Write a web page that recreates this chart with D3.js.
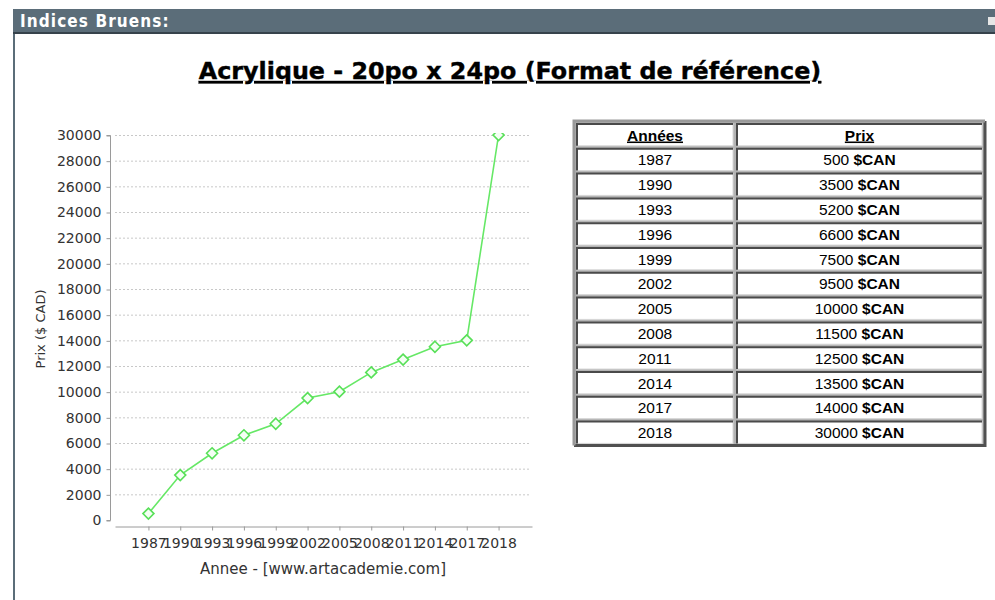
<!DOCTYPE html>
<html>
<head>
<meta charset="utf-8">
<script src="https://cdn.jsdelivr.net/npm/d3@7"></script>
<style>
  body { margin: 0; background: #fff; }
  svg { display: block; }
</style>
</head>
<body>
<div id="the_chart"></div>
<script>
// data
var years = ['1987','1990','1993','1996','1999','2002','2005','2008','2011','2014','2017','2018'];
var prices = [500, 3500, 5200, 6600, 7500, 9500, 10000, 11500, 12500, 13500, 14000, 30000];
var yTicks = d3.range(0, 30001, 2000);
var tableHead = ['Années', 'Prix'];

var canvas = d3.select('#the_chart')
  .append('svg')
  .attr('width', 995)
  .attr('height', 600);

// header bar of the page box
canvas.append('rect').attr('x', 13).attr('y', 9).attr('width', 982).attr('height', 24).attr('fill', '#5b6d79');
canvas.append('rect').attr('x', 13).attr('y', 32).attr('width', 982).attr('height', 2).attr('fill', '#36424b');
canvas.append('rect').attr('x', 13).attr('y', 34).attr('width', 2).attr('height', 566).attr('fill', '#5b6d79');
canvas.append('rect').attr('x', 988).attr('y', 17).attr('width', 7).attr('height', 8).attr('fill', '#e6e6e6');
canvas.append('text')
  .attr('x', 20).attr('y', 27)
  .attr('fill', '#fff')
  .style('font-family', 'DejaVu Sans Condensed, DejaVu Sans')
  .style('font-weight', 'bold')
  .style('font-size', '17px')
  .style('letter-spacing', '1.1px')
  .text('Indices Bruens:');

// title
canvas.append('text')
  .attr('x', 510).attr('y', 79)
  .attr('text-anchor', 'middle')
  .attr('fill', '#000')
  .attr('stroke', '#000')
  .attr('stroke-width', 0.4)
  .style('font-family', 'DejaVu Sans')
  .style('font-weight', 'bold')
  .style('font-size', '23.8px')
  .style('text-decoration', 'underline')
  .text('Acrylique - 20po x 24po (Format de référence)');

// chart
var xscale = d3.scalePoint()
  .domain(years)
  .range([115, 532])
  .padding(1.05);

var yscale = d3.scaleLinear()
  .domain([0, 30000])
  .range([520, 135]);

var grids = canvas.append('g')
  .attr('id', 'grid')
  .selectAll('line')
  .data(yTicks.filter(function(d){ return d > 0; }))
  .enter()
  .append('line')
  .attr('x1', 115)
  .attr('x2', 531)
  .attr('y1', function(d){ return yscale(d) + 0.5; })
  .attr('y2', function(d){ return yscale(d) + 0.5; })
  .style('stroke', '#c8c8c8')
  .style('stroke-width', '1px')
  .style('stroke-dasharray', '2,2');

var yAxis = d3.axisLeft()
  .scale(yscale)
  .tickValues(yTicks)
  .tickSize(4)
  .tickPadding(5)
  .tickFormat(d3.format('d'));

var y_xis = canvas.append('g')
  .attr('id', 'yaxis')
  .attr('transform', 'translate(110.5,0.5)')
  .call(yAxis);

var xAxis = d3.axisBottom()
  .scale(xscale)
  .tickSize(4)
  .tickSizeOuter(0)
  .tickPadding(8);

var x_xis = canvas.append('g')
  .attr('id', 'xaxis')
  .attr('transform', 'translate(0,526.5)')
  .call(xAxis);

canvas.selectAll('#yaxis, #xaxis')
  .style('font-family', 'DejaVu Sans')
  .style('font-size', '14px');
canvas.selectAll('#yaxis path, #yaxis line, #xaxis path, #xaxis line')
  .style('stroke', '#9a9a9a');
canvas.selectAll('#yaxis text, #xaxis text').attr('fill', '#333');
canvas.select('#yaxis .domain').attr('d', 'M-4,' + yscale(30000) + 'H0V' + yscale(0) + 'H-4');

canvas.append('text')
  .attr('transform', 'translate(45,329) rotate(-90)')
  .attr('text-anchor', 'middle')
  .attr('fill', '#333')
  .style('font-family', 'DejaVu Sans')
  .style('font-size', '13px')
  .text('Prix ($ CAD)');

canvas.append('text')
  .attr('x', 323).attr('y', 574)
  .attr('text-anchor', 'middle')
  .attr('fill', '#333')
  .style('font-family', 'DejaVu Sans')
  .style('font-size', '15px')
  .text('Annee - [www.artacademie.com]');

canvas.append('clipPath').attr('id', 'plotclip')
  .append('rect').attr('x', 111).attr('y', 133).attr('width', 430).attr('height', 400);

var pts = years.map(function(y, i){ return {year: y, price: prices[i]}; });

var plot = canvas.append('g').attr('clip-path', 'url(#plotclip)');

plot.append('path')
  .datum(pts)
  .attr('fill', 'none')
  .attr('stroke', '#66e866')
  .attr('stroke-width', 1.6)
  .attr('d', d3.line()
    .x(function(d){ return xscale(d.year); })
    .y(function(d){ return yscale(d.price); }));

plot.selectAll('path.pt')
  .data(pts)
  .enter()
  .append('path')
  .attr('class', 'pt')
  .attr('transform', function(d){ return 'translate(' + xscale(d.year) + ',' + yscale(d.price) + ')'; })
  .attr('d', 'M0,-5.5L5.5,0L0,5.5L-5.5,0Z')
  .attr('fill', '#f4fff4')
  .attr('stroke', '#58e058')
  .attr('stroke-width', 1.6);

// price table
var tx = 574, ty = 121, tw = 411, rowH = 24.8;
var cols = [{x: 576, w: 158}, {x: 736, w: 247}];
var nRows = years.length + 1;
var th = rowH * nRows + 2;

var table = canvas.append('g').attr('id', 'table');
// outer outset border
table.append('rect').attr('x', tx).attr('y', ty).attr('width', tw).attr('height', th).attr('fill', '#b4b4b4');
table.append('path')
  .attr('d', 'M' + (tx + tw) + ',' + ty + 'V' + (ty + th) + 'H' + tx)
  .attr('fill', 'none').attr('stroke', '#505050').attr('stroke-width', 3);
table.append('path')
  .attr('d', 'M' + tx + ',' + (ty + th) + 'V' + ty + 'H' + (tx + tw))
  .attr('fill', 'none').attr('stroke', '#9a9a9a').attr('stroke-width', 3);

var rows = [tableHead].concat(years.map(function(y, i){ return [y, prices[i]]; }));

var rowG = table.selectAll('g.row')
  .data(rows)
  .enter()
  .append('g')
  .attr('class', 'row')
  .attr('transform', function(d, i){ return 'translate(0,' + (ty + 2 + i * rowH) + ')'; });

cols.forEach(function(c, ci) {
  rowG.append('rect')
    .attr('x', c.x + 1).attr('y', 1)
    .attr('width', c.w - 2).attr('height', rowH - 3)
    .attr('fill', '#fff')
    .attr('stroke', '#d8d8d8')
    .attr('stroke-width', 1);
  rowG.append('path')
    .attr('d', 'M' + (c.x + 1) + ',' + (rowH - 2) + 'V1H' + (c.x + c.w - 1))
    .attr('fill', 'none')
    .attr('stroke', '#4a4a4a')
    .attr('stroke-width', 2);
});

rowG.each(function(d, i) {
  var g = d3.select(this);
  var t1 = g.append('text')
    .attr('x', cols[0].x + cols[0].w / 2).attr('y', 17.5)
    .attr('text-anchor', 'middle')
    .attr('fill', '#000')
    .style('font-family', 'Liberation Sans, Arial')
    .style('font-size', '15.5px')
    .text(d[0]);
  var t2 = g.append('text')
    .attr('x', cols[1].x + cols[1].w / 2).attr('y', 17.5)
    .attr('text-anchor', 'middle')
    .attr('fill', '#000')
    .style('font-family', 'Liberation Sans, Arial')
    .style('font-size', '15.5px');
  if (i === 0) {
    t1.style('font-weight', 'bold').style('text-decoration', 'underline');
    t2.style('font-weight', 'bold').style('text-decoration', 'underline').text(d[1]);
  } else {
    t2.append('tspan').text(d[1] + ' ');
    t2.append('tspan').style('font-weight', 'bold').text('$CAN');
  }
});
</script>
</body>
</html>
